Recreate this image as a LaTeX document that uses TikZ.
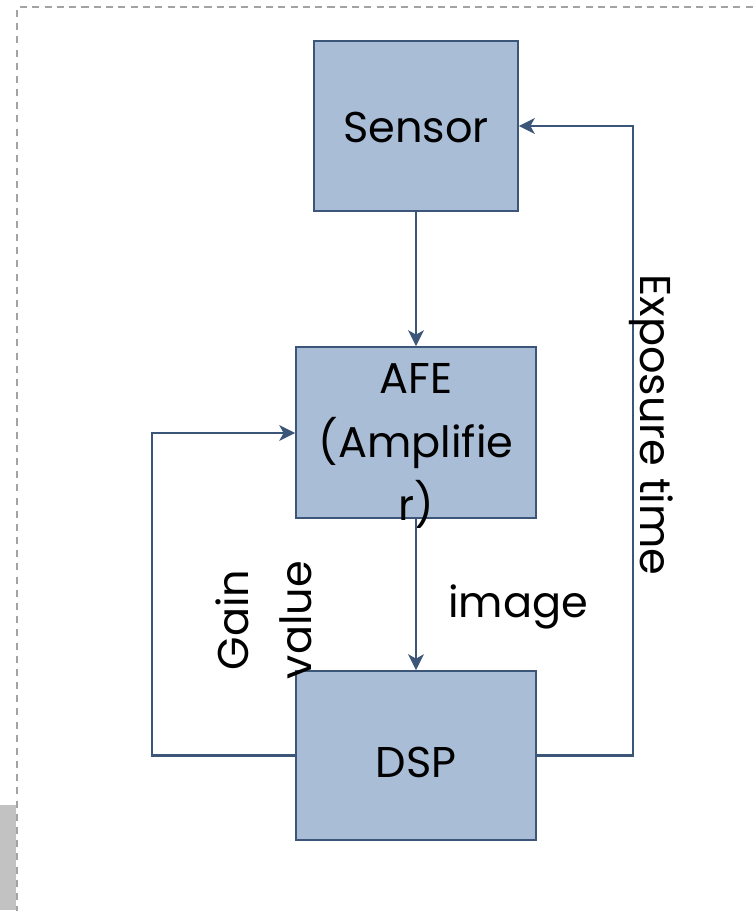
\documentclass[tikz,border=0pt]{standalone}
\usepackage{fontspec}
\setmainfont{Poppins}
\usetikzlibrary{arrows.meta}
\definecolor{boxfill}{HTML}{AABDD7}
\definecolor{boxline}{HTML}{3B5678}
\definecolor{frameline}{HTML}{A3A3A3}
\definecolor{tabfill}{HTML}{C2C2C2}

\begin{document}
\begin{tikzpicture}[x=0.02cm,y=-0.02cm,
  every path/.style={>={Stealth[length=9pt,width=9pt,inset=2.5pt]}},
  block/.style={draw=boxline,fill=boxfill,line width=1.1pt,rectangle,inner sep=0pt},
  txt/.style={font=\fontsize{24.5}{36}\selectfont,inner sep=0pt,align=center},
  link/.style={draw=boxline,line width=1.2pt}]
\useasboundingbox (0,0) rectangle (755,911);
% page frame
\draw[frameline,line width=1pt,dash pattern=on 4pt off 3pt] (20,7) -- (755,7);
\draw[frameline,line width=1pt,dash pattern=on 4pt off 3.5pt] (17,10) -- (17,911);
\fill[tabfill] (0,805) rectangle (16,910);
% blocks
\node[block,minimum width=4.08cm,minimum height=3.40cm] (sensor) at (416,126) {};
\node[block,minimum width=4.80cm,minimum height=3.42cm] (afe)    at (416,432.5) {};
\node[block,minimum width=4.80cm,minimum height=3.38cm] (dsp)    at (416,755.5) {};
\node[txt] (sensortext) at (416,128) {Sensor};
\node[txt] (afetext)    at (416,446) {AFE\\(Amplifie\\r)};
\node[txt] (dsptext)    at (416,762) {DSP};
% corners
\coordinate (gl) at (152,755.5);
\coordinate (gu) at (152,433);
\coordinate (el) at (633,755.5);
\coordinate (eu) at (633,126);
% links
\draw[link,->] (sensor) -- (afe);
\draw[link,->] (afe) -- (dsp);
\draw[link,->] (dsp.west) -- (gl) -- (gu) -- (afe.west |- gu);
\draw[link,->] (dsp.east) -- (el) -- (eu) -- (sensor.east |- eu);
% labels
\node[txt] (imagetext) at (518,607) {image};
\node[txt,rotate=90] (gaintext) at (264,620) {Gain\\value};
\node[txt,rotate=-90] (exptext) at (651,425) {Exposure time};
\end{tikzpicture}
\end{document}
